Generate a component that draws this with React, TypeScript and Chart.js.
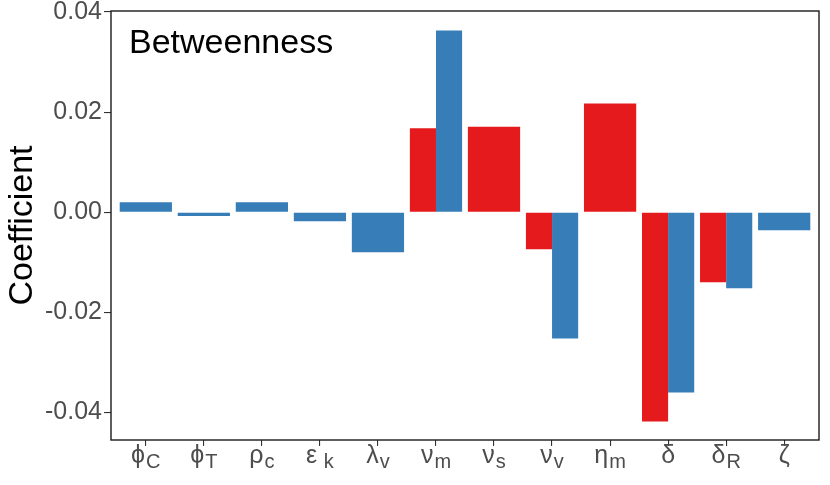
import React, { useEffect, useRef } from "react";
import { Chart, registerables } from "chart.js";

Chart.register(...registerables);

// categories drawn as Greek letter + subscript
const categoryBase = ["ϕ", "ϕ", "ρ", "ε", "λ", "ν", "ν", "ν", "η", "δ", "δ", "ζ"];
const categorySub = ["C", "T", "c", " k", "v", "m", "s", "v", "m", "", "R", ""];

const redValues: (number | null)[] = [null, null, null, null, null, 0.0168, 0.0171, -0.0074, 0.0217, -0.0418, -0.014, null];
const blueValues: (number | null)[] = [0.002, -0.00075, 0.002, -0.0018, -0.008, 0.0363, null, -0.0252, null, -0.036, -0.0152, -0.0036];

const yTicks = [-0.04, -0.02, 0, 0.02, 0.04];

const FONT = "'Liberation Sans', Arial, Helvetica, sans-serif";

const framePlugin = {
  id: "frame",
  afterDraw(chart: any) {
    const { ctx, chartArea } = chart;
    ctx.save();
    ctx.strokeStyle = "#1a1a1a";
    ctx.lineWidth = 1.4;
    ctx.strokeRect(chartArea.left, chartArea.top, chartArea.right - chartArea.left, chartArea.bottom - chartArea.top);
    // panel label
    ctx.fillStyle = "#000";
    ctx.font = `34px ${FONT}`;
    ctx.textBaseline = "alphabetic";
    ctx.textAlign = "left";
    ctx.fillText("Betweenness", chartArea.left + 18, chartArea.top + 42);
    ctx.restore();
  },
};

const xLabelPlugin = {
  id: "xLabels",
  afterDraw(chart: any) {
    const { ctx, chartArea } = chart;
    const xScale = chart.scales.x;
    ctx.save();
    ctx.fillStyle = "#4D4D4D";
    ctx.textAlign = "left";
    ctx.textBaseline = "alphabetic";
    categoryBase.forEach((base, i) => {
      const sub = categorySub[i];
      const x = xScale.getPixelForValue(i);
      ctx.font = `25px ${FONT}`;
      const wb = ctx.measureText(base).width;
      ctx.font = `20px ${FONT}`;
      const ws = sub ? ctx.measureText(sub).width + 1 : 0;
      const start = x - (wb + ws) / 2;
      ctx.font = `25px ${FONT}`;
      ctx.fillText(base, start, chartArea.bottom + 23);
      if (sub) {
        ctx.font = `20px ${FONT}`;
        ctx.fillText(sub, start + wb + 1, chartArea.bottom + 28);
      }
    });
    ctx.restore();
  },
};

const App = () => {
  const chartRef = useRef<HTMLCanvasElement | null>(null);

  useEffect(() => {
    if (!chartRef.current) return;
    const ctx = chartRef.current.getContext("2d");
    if (!ctx) return;

    const chart = new Chart(ctx, {
      type: "bar",
      data: {
        datasets: [
          {
            label: "red",
            data: redValues.map((v, i) => ({ x: i, y: v })) as any,
            backgroundColor: "#E41A1C",
            borderWidth: 0,
          },
          {
            label: "blue",
            data: blueValues.map((v, i) => ({ x: i, y: v })) as any,
            backgroundColor: "#377EB8",
            borderWidth: 0,
          },
        ],
      },
      plugins: [framePlugin, xLabelPlugin],
      options: {
        animation: false,
        responsive: true,
        maintainAspectRatio: false,
        devicePixelRatio: 1,
        layout: { padding: { top: 11, right: 11, left: 0, bottom: 0 } },
        datasets: {
          bar: {
            categoryPercentage: 0.9,
            barPercentage: 1,
            skipNull: true,
          },
        },
        plugins: {
          legend: { display: false },
          tooltip: { enabled: false },
        },
        scales: {
          x: {
            type: "linear",
            min: -0.6,
            max: 11.6,
            offset: false,
            afterBuildTicks: (scale: any) => {
              scale.ticks = categoryBase.map((_, i) => ({ value: i }));
            },
            afterFit: (scale: any) => {
              scale.height = 45;
              scale.paddingLeft = 0;
              scale.paddingRight = 0;
            },
            ticks: {
              callback: () => "",
              autoSkip: false,
            },
            grid: {
              offset: false,
              drawOnChartArea: false,
              drawTicks: true,
              tickLength: 6,
              color: "#333333",
              lineWidth: 1.1,
            },
            border: { display: false },
          },
          y: {
            min: -0.0455,
            max: 0.0402,
            afterBuildTicks: (scale: any) => {
              scale.ticks = yTicks.map((v) => ({ value: v }));
            },
            afterFit: (scale: any) => {
              scale.width = 111;
              scale.paddingTop = 0;
              scale.paddingBottom = 0;
            },
            ticks: {
              callback: (v: any) => Number(v).toFixed(2),
              font: { size: 25, family: FONT },
              color: "#4D4D4D",
              padding: 2,
            },
            grid: {
              drawOnChartArea: false,
              drawTicks: true,
              tickLength: 7,
              color: "#333333",
              lineWidth: 1.1,
            },
            border: { display: false },
            title: {
              display: true,
              text: "Coefficient",
              color: "#000000",
              font: { size: 34, family: FONT, lineHeight: 1.2 },
              padding: { top: 2, bottom: 0 },
            },
          },
        },
      },
    });

    return () => {
      chart.destroy();
    };
  }, []);

  return (
    <div style={{ position: "absolute", left: 0, top: 0, width: 830, height: 485, background: "#fff" }}>
      <canvas ref={chartRef} />
    </div>
  );
};

export default App;
